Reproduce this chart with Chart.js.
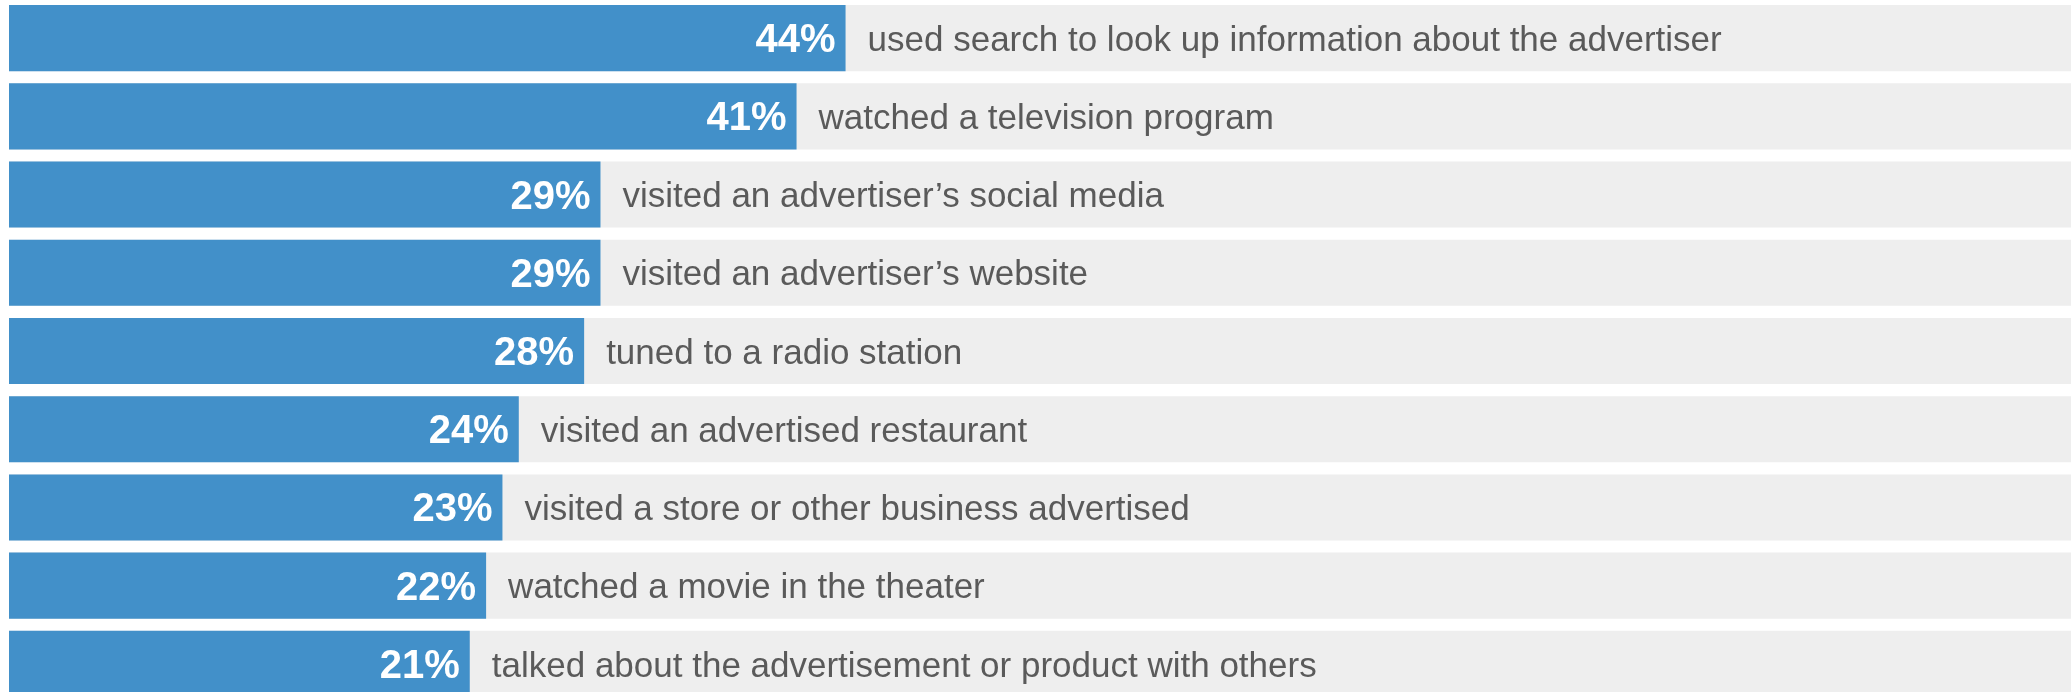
<!DOCTYPE html>
<html>
<head>
<meta charset="utf-8">
<script src="https://cdn.jsdelivr.net/npm/chart.js@4/dist/chart.umd.min.js"></script>
<style>
  html, body { margin: 0; padding: 0; background: #fff; overflow: hidden; }
  #wrap { position: absolute; left: 0; top: -1px; width: 2071px; height: 704px; }
</style>
</head>
<body>
<div id="wrap"><canvas id="adChart"></canvas></div>
<script>
const categories = [
  "used search to look up information about the advertiser",
  "watched a television program",
  "visited an advertiser\u2019s social media",
  "visited an advertiser\u2019s website",
  "tuned to a radio station",
  "visited an advertised restaurant",
  "visited a store or other business advertised",
  "watched a movie in the theater",
  "talked about the advertisement or product with others"
];
const shares = [44, 41, 29, 29, 28, 24, 23, 22, 21];

// axis range (percent units); bars start at the left edge of the plot
const axisMin = -7.2;
const axisMax = 119;
const track = categories.map(() => axisMax);

// labels: value inside the bar end, description just after it
const barLabels = {
  id: "barLabels",
  afterDatasetsDraw(chart) {
    const ctx = chart.ctx;
    const meta = chart.getDatasetMeta(0);
    ctx.save();
    ctx.textBaseline = "middle";
    meta.data.forEach((bar, i) => {
      ctx.font = "bold 40px 'Liberation Sans', Arial, sans-serif";
      ctx.fillStyle = "#ffffff";
      ctx.textAlign = "right";
      ctx.fillText(shares[i] + "%", bar.x - 10, bar.y + 3);

      ctx.font = "35px 'Liberation Sans', Arial, sans-serif";
      ctx.fillStyle = "#5a5a5a";
      ctx.textAlign = "left";
      ctx.fillText(categories[i], bar.x + 22, bar.y + 3);
    });
    ctx.restore();
  }
};

new Chart(document.getElementById("adChart"), {
  type: "bar",
  data: {
    labels: categories,
    datasets: [
      {
        label: "Share",
        data: shares,
        base: axisMin,
        backgroundColor: "#4290c9",
        borderWidth: 0,
        grouped: false,
        order: 1
      },
      {
        label: "Track",
        data: track,
        base: axisMin,
        backgroundColor: "#eeeeee",
        borderWidth: 0,
        grouped: false,
        order: 2
      }
    ]
  },
  options: {
    indexAxis: "y",
    responsive: true,
    maintainAspectRatio: false,
    animation: false,
    layout: { padding: { left: 9, right: 0, top: 0, bottom: 0 } },
    datasets: {
      bar: { categoryPercentage: 1, barPercentage: 0.845 }
    },
    plugins: {
      legend: { display: false },
      tooltip: { enabled: false }
    },
    scales: {
      x: { display: false, min: axisMin, max: axisMax },
      y: { display: false }
    }
  },
  plugins: [barLabels]
});
</script>
</body>
</html>
